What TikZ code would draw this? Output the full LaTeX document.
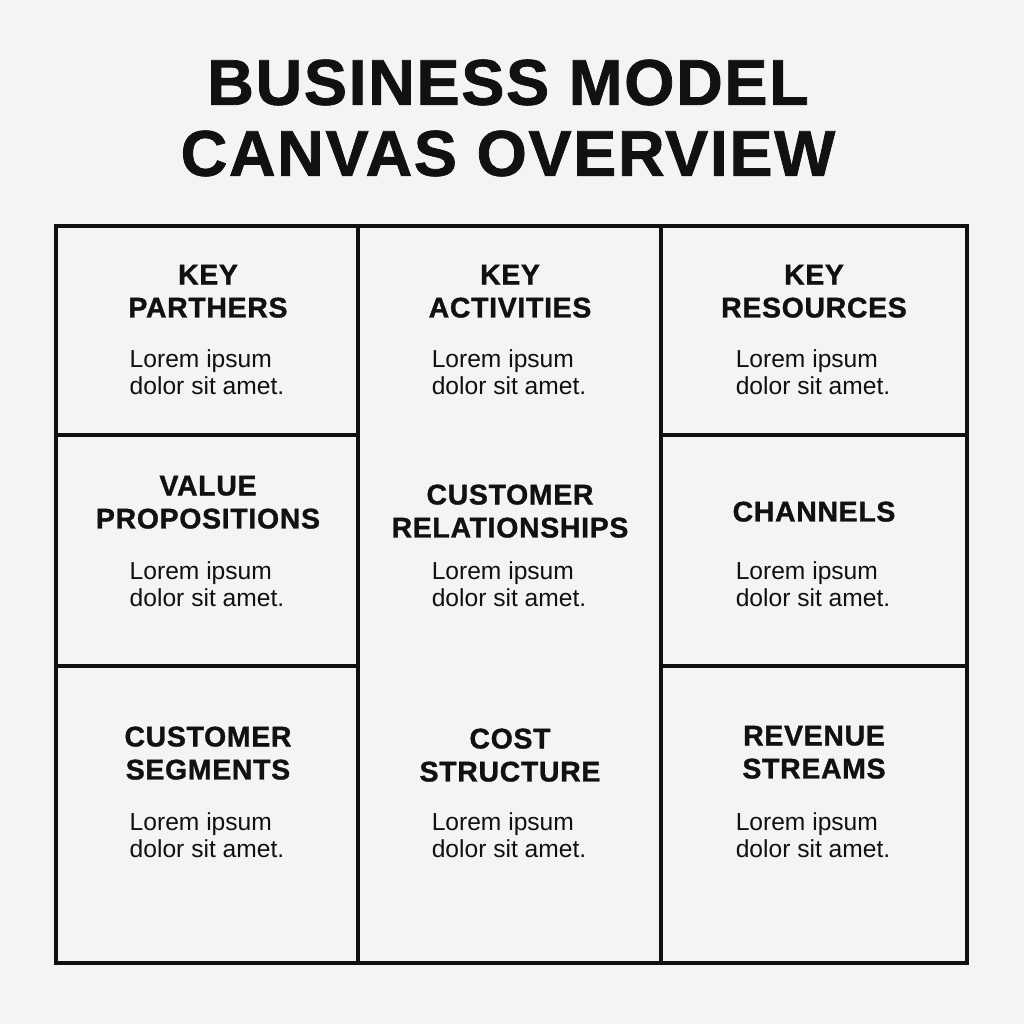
\documentclass[tikz,border=0pt]{standalone}
\usepackage{fontspec}
\setmainfont{Liberation Sans}
\newfontface\heavyface{Liberation Sans Bold}[FakeBold=1.2,LetterSpace=2.5]
\usetikzlibrary{positioning}
\definecolor{canvasbg}{HTML}{F4F4F4}
\definecolor{ink}{HTML}{111111}

\begin{document}
\begin{tikzpicture}[x=0.25mm,y=-0.25mm,
    heading/.style={anchor=south,align=center,inner sep=0pt,text=ink,
        font=\fontsize{20.2}{23.5}\heavyface},
    body/.style={anchor=north,align=left,inner sep=0pt,text=ink,
        font=\fontsize{17.5}{19.2}\selectfont},
    grid/.style={draw=ink,line width=2.2pt}]

% Page background
\fill[canvasbg] (0,0) rectangle (1024,1024);
\useasboundingbox (0,0) rectangle (1024,1024);

% Title
\node[align=center,inner sep=0pt,text=ink,font=\fontsize{46}{50.5}\heavyface]
    (title) at (508,118) {BUSINESS MODEL\\CANVAS OVERVIEW};

% Canvas frame and dividers
\draw[grid] (56,226) rectangle (967,963);
\draw[grid] (358,226) -- (358,963);
\draw[grid] (661,226) -- (661,963);
\draw[grid] (56,435) -- (358,435);
\draw[grid] (56,666) -- (358,666);
\draw[grid] (661,435) -- (967,435);
\draw[grid] (661,666) -- (967,666);

% Top row
\node[heading] (kpHead) at (208,318) {KEY\\PARTHERS};
\node[body] (kpBody) at (207,349) {Lorem ipsum\\dolor sit amet.};
\node[heading] (kaHead) at (510,318) {KEY\\ACTIVITIES};
\node[body] (kaBody) at (509,349) {Lorem ipsum\\dolor sit amet.};
\node[heading] (krHead) at (814,318) {KEY\\RESOURCES};
\node[body] (krBody) at (813,349) {Lorem ipsum\\dolor sit amet.};

% Middle row
\node[heading] (vpHead) at (208,529) {VALUE\\PROPOSITIONS};
\node[body] (vpBody) at (207,561) {Lorem ipsum\\dolor sit amet.};
\node[heading] (crHead) at (510,538) {CUSTOMER\\RELATIONSHIPS};
\node[body] (crBody) at (509,561) {Lorem ipsum\\dolor sit amet.};
\node[heading] (chHead) at (814,522) {CHANNELS};
\node[body] (chBody) at (813,561) {Lorem ipsum\\dolor sit amet.};

% Bottom row
\node[heading] (csHead) at (208,780) {CUSTOMER\\SEGMENTS};
\node[body] (csBody) at (207,812) {Lorem ipsum\\dolor sit amet.};
\node[heading] (costHead) at (510,782) {COST\\STRUCTURE};
\node[body] (costBody) at (509,812) {Lorem ipsum\\dolor sit amet.};
\node[heading] (rsHead) at (814,779) {REVENUE\\STREAMS};
\node[body] (rsBody) at (813,812) {Lorem ipsum\\dolor sit amet.};

\end{tikzpicture}
\end{document}
